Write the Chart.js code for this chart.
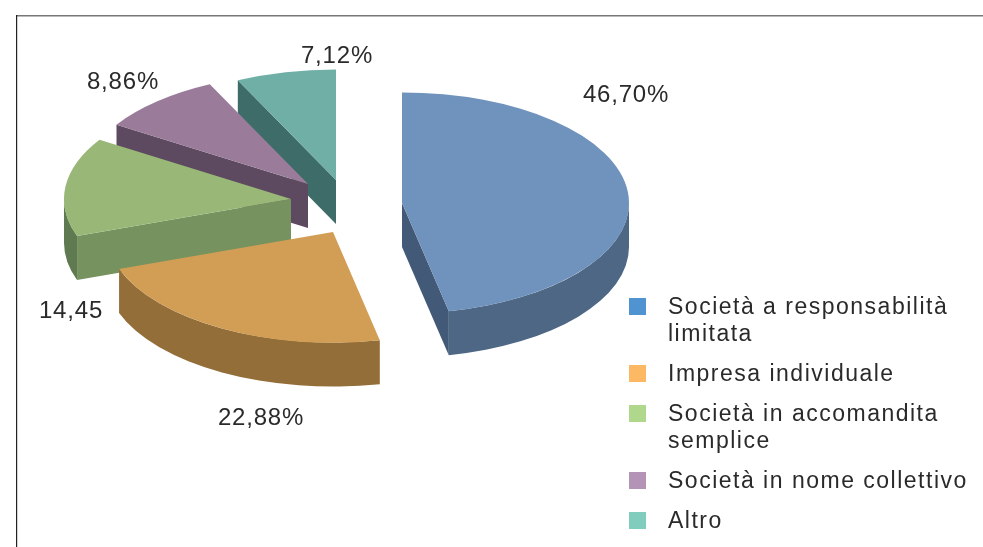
<!DOCTYPE html>
<html>
<head>
<meta charset="utf-8">
<style>
  html, body { margin: 0; padding: 0; background: #fff; }
  #wrap { position: relative; width: 983px; height: 547px; }
</style>
</head>
<body>
<div id="wrap"><canvas id="pie" width="983" height="547"></canvas></div>
<script src="https://cdn.jsdelivr.net/npm/chart.js@4"></script>
<script>
const categories = [
  ["Società a responsabilità", "limitata"],
  ["Impresa individuale"],
  ["Società in accomandita", "semplice"],
  ["Società in nome collettivo"],
  ["Altro"]
];
const shares = [46.70, 22.88, 14.45, 8.86, 7.12];
const shareLabels = ["46,70%", "22,88%", "14,45", "8,86%", "7,12%"];

const topColors = ["#7093bd", "#d29e55", "#99b878", "#9a7c9a", "#6fafa6"];
const wallColors = ["#4e6785", "#946e38", "#5f7a50", "#5d4a60", "#3e6c68"];
const faceColors = ["#425a77", "#946e38", "#76925e", "#5d4a60", "#3e6c68"];
const legendColors = ["#4f94d0", "#fdb863", "#b0d88c", "#b394b7", "#81cdbd"];

// Forma del pastel 3D
const squash = 0.487;
const depth = 44;
const explode = [[52, -2], [-17, 27], [-59, -6], [-42, -21], [-14, -25]];
const drawOrder = [4, 3, 2, 1, 0];
const labelSpots = [[626, 95], [261, 418], [71, 311], [123, 82], [337, 56]];

const textColor = "#2a2a2a";

function drawTop(ctx, arc, shift, color) {
  const saved = arc.options;
  arc.options = Object.create(saved);
  arc.options.backgroundColor = color;
  ctx.save();
  ctx.translate(arc.x + shift[0], arc.y + shift[1]);
  ctx.scale(1, squash);
  ctx.translate(-arc.x, -arc.y);
  arc.draw(ctx);
  ctx.restore();
  arc.options = saved;
}

// Pared exterior: solo la mitad de abajo de la elipse se ve
function drawWall(ctx, arc, shift, color) {
  const from = Math.max(arc.startAngle, 0);
  const to = Math.min(arc.endAngle, Math.PI);
  if (to <= from) return;
  const ax = arc.x + shift[0];
  const ay = arc.y + shift[1];
  const r = arc.outerRadius;
  ctx.fillStyle = color;
  ctx.beginPath();
  ctx.ellipse(ax, ay, r, r * squash, 0, from, to);
  ctx.ellipse(ax, ay + depth, r, r * squash, 0, to, from, true);
  ctx.closePath();
  ctx.fill();
}

// Cara del corte, solo si mira hacia abajo
function drawFace(ctx, arc, shift, angle, color) {
  const ax = arc.x + shift[0];
  const ay = arc.y + shift[1];
  const rx = ax + Math.cos(angle) * arc.outerRadius;
  const ry = ay + Math.sin(angle) * arc.outerRadius * squash;
  ctx.fillStyle = color;
  ctx.beginPath();
  ctx.moveTo(ax, ay);
  ctx.lineTo(rx, ry);
  ctx.lineTo(rx, ry + depth);
  ctx.lineTo(ax, ay + depth);
  ctx.closePath();
  ctx.fill();
}

const pie3d = {
  id: "pie3d",
  beforeDatasetsDraw(chart) {
    const ctx = chart.ctx;
    const arcs = chart.getDatasetMeta(0).data;
    drawOrder.forEach(i => {
      const arc = arcs[i];
      drawWall(ctx, arc, explode[i], wallColors[i]);
      if (Math.cos(arc.startAngle) < -0.001) drawFace(ctx, arc, explode[i], arc.startAngle, faceColors[i]);
      if (Math.cos(arc.endAngle) > 0.001) drawFace(ctx, arc, explode[i], arc.endAngle, faceColors[i]);
      drawTop(ctx, arc, explode[i], topColors[i]);
    });
    return false;
  },
  afterDraw(chart) {
    const ctx = chart.ctx;
    ctx.save();

    // Marco
    ctx.fillStyle = "#777";
    ctx.fillRect(16, 15, 967, 1.5);
    ctx.fillStyle = "#222";
    ctx.fillRect(16, 15, 1.2, 532);

    ctx.fillStyle = textColor;
    ctx.textBaseline = "middle";

    // Etiquetas de porcentaje
    ctx.font = "24px 'Liberation Sans'";
    ctx.letterSpacing = "0.8px";
    ctx.textAlign = "center";
    shareLabels.forEach((t, i) => ctx.fillText(t, labelSpots[i][0], labelSpots[i][1]));

    // Leyenda
    ctx.font = "23px 'Liberation Sans'";
    ctx.letterSpacing = "1.5px";
    ctx.textAlign = "left";
    let y = 298;
    categories.forEach((lines, i) => {
      ctx.fillStyle = legendColors[i];
      ctx.fillRect(629, y, 17, 17);
      ctx.fillStyle = textColor;
      lines.forEach((line, n) => ctx.fillText(line, 668, y + 10 + n * 27));
      y += lines.length * 27 + 13;
    });
    ctx.restore();
  }
};

new Chart(document.getElementById("pie"), {
  type: "pie",
  data: {
    labels: categories.map(c => c.join(" ")),
    datasets: [{
      data: shares,
      backgroundColor: topColors,
      borderWidth: 0,
      radius: 227
    }]
  },
  options: {
    responsive: false,
    animation: false,
    layout: { padding: { right: 283, bottom: 137 } },
    plugins: {
      legend: { display: false },
      tooltip: { enabled: false }
    }
  },
  plugins: [pie3d]
});
</script>
</body>
</html>
